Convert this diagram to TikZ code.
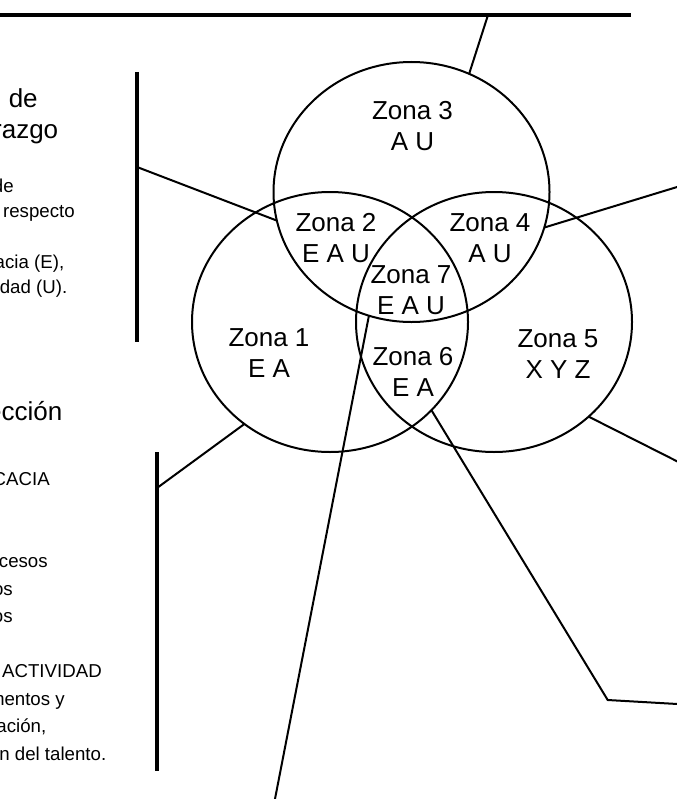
\documentclass[tikz,border=0pt]{standalone}
\usepackage{fontspec}
\setmainfont{Liberation Sans}
\usetikzlibrary{shapes.geometric}
\begin{document}
\begin{tikzpicture}[x=0.75pt,y=-0.75pt,
  zone/.style={ellipse, draw=black, line width=1.5pt, minimum width=207pt,
    minimum height=195pt, inner sep=0pt, outer sep=0pt},
  lbl/.style={align=center, inner sep=0pt, font=\fontsize{19.5pt}{23.25pt}\selectfont},
  head/.style={anchor=base east, inner sep=0pt, font=\fontsize{19.5pt}{23pt}\selectfont},
  side/.style={anchor=base east, inner sep=0pt, font=\fontsize{14pt}{16pt}\selectfont},
  wire/.style={line width=1.5pt},
  rule/.style={line width=2.5pt}]
\useasboundingbox (0,0) rectangle (677,799);
\clip (0,0) rectangle (677,799);

% three overlapping zones
\node[zone] (c3) at (411.5,192) {};
\node[zone] (c1) at (330,322) {};
\node[zone] (c5) at (494,322) {};

% zone labels
\node[lbl] (z3) at (412.5,126.25) {Zona 3\\A U};
\node[lbl] (z2) at (336,238.25) {Zona 2\\E A U};
\node[lbl] (z4) at (490,238.25) {Zona 4\\A U};
\node[lbl] (z7) at (411,290) {Zona 7\\E A U};
\node[lbl] (z1) at (269,353.25) {Zona 1\\E A};
\node[lbl] (z6) at (413,371.5) {Zona 6\\E A};
\node[lbl] (z5) at (558,354) {Zona 5\\X Y Z};

% top rule
\coordinate (tl0) at (-10,15);
\coordinate (tl1) at (631,15);
\draw[rule] (tl0) -- (tl1);
\coordinate (tj) at (488,15);
\draw[wire] (tj) -- (c3.64.5);

% left bars with their callouts
\coordinate (b1top) at (137,72);
\coordinate (b1bot) at (137,342);
\draw[rule] (b1top) -- (b1bot);
\coordinate (b1j) at (137,167);
\draw[wire] (b1j) -- (c3.192.4);

\coordinate (b2top) at (157,452);
\coordinate (b2bot) at (157,771);
\draw[rule] (b2top) -- (b2bot);
\coordinate (b2j) at (157,488);
\draw[wire] (b2j) -- (c1.230.8);

% callouts leaving the picture
\coordinate (r1) at (700,180);
\draw[wire] (c3.345.6) -- (r1);
\coordinate (r2) at (700,472.9);
\draw[wire] (c5.315.8) -- (r2);
\coordinate (d1) at (270.9,820);
\draw[wire] (c3.251.15) -- (d1);
\coordinate (k1) at (607.7,700);
\coordinate (r3) at (700,705.3);
\draw[wire] (c1.319.1) -- (k1) -- (r3);

% left text column
\node[head] (h1a) at (38,108) {Nivel de};
\node[head] (h1b) at (58.5,138) {Liderazgo};
\node[side] (s1a) at (14,192.5) {Grado de};
\node[side] (s1b) at (75,217.7) {desempeño respecto};
\node[side] (s1c) at (64.5,268) {eficacia (E),};
\node[side] (s1d) at (67.5,293) {utilidad (U).};

\node[head] (h2a) at (62.5,420) {Dirección};
\node[side] (s2a) at (50,485) {EFICACIA};
\node[side] (s2b) at (48,567.5) {Mejora de procesos};
\node[side] (s2c) at (13,595) {administrativos};
\node[side] (s2d) at (13,622.5) {y operativos};
\node[side] (s2e) at (102,677.5) {ACTIVIDAD};
\node[side] (s2f) at (65,705) {Instrumentos y};
\node[side] (s2g) at (46.5,732.5) {capacitación,};
\node[side] (s2h) at (106.5,760) {y gestión del talento.};
\end{tikzpicture}
\end{document}
